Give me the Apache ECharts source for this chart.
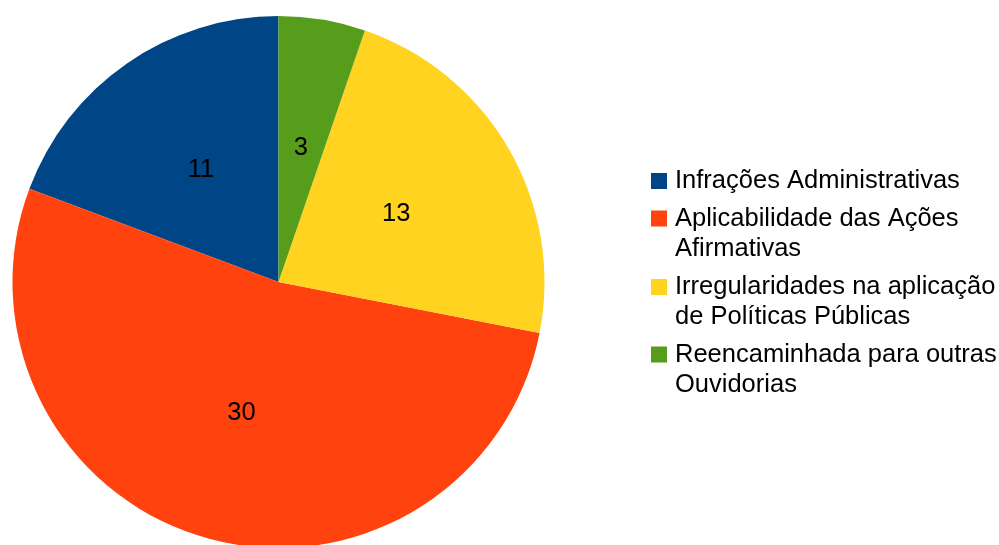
<!DOCTYPE html>
<html>
<head>
<meta charset="utf-8">
<script src="https://cdn.jsdelivr.net/npm/echarts@6/dist/echarts.min.js"></script>
<style>
  html, body { margin: 0; padding: 0; background: #ffffff; }
  #chart { width: 999px; height: 545px; }
</style>
</head>
<body>
<div id="chart"></div>
<script>
// Categories and counts, in drawing order (counter-clockwise from 12 o'clock)
const categories = [
  'Infrações Administrativas',
  'Aplicabilidade das Ações Afirmativas',
  'Irregularidades na aplicação de Políticas Públicas',
  'Reencaminhada para outras Ouvidorias'
];
const counts = [11, 30, 13, 3];
const colors = ['#004586', '#ff420e', '#ffd320', '#579d1c'];
// Wrapped legend text for each category
const legendLines = [
  ['Infrações Administrativas'],
  ['Aplicabilidade das Ações', 'Afirmativas'],
  ['Irregularidades na aplicação', 'de Políticas Públicas'],
  ['Reencaminhada para outras', 'Ouvidorias']
];

const FONT = 'Liberation Sans';
const FONT_SIZE = 25.5;
const LINE_H = 30;
const legendIconTops = [173, 210.5, 279, 346.5];

const chart = echarts.init(document.getElementById('chart'), null, { renderer: 'canvas' });

// One legend block per category. The legend centres its text on the swatch,
// so wrapped entries get a blank leading line to keep line one beside the swatch.
const legends = categories.map((name, i) => {
  const lines = legendLines[i];
  const shown = lines.length > 1 ? [''].concat(lines) : lines;
  return {
    orient: 'vertical',
    left: 651,
    top: legendIconTops[i] + 8 - (shown.length * LINE_H) / 2,
    padding: 0,
    itemWidth: 16,
    itemHeight: 16,
    icon: 'rect',
    selectedMode: false,
    data: [name],
    formatter: () => shown.map(s => s ? '{t|' + s + '}' : '{t| }').join('\n'),
    textStyle: {
      fontFamily: FONT,
      fontSize: FONT_SIZE,
      color: '#000000',
      lineHeight: LINE_H,
      rich: {
        t: {
          fontFamily: FONT,
          fontSize: FONT_SIZE,
          color: '#000000',
          lineHeight: LINE_H,
          padding: [0, 0, 0, 3]
        }
      }
    }
  };
});

chart.setOption({
  animation: false,
  color: colors,
  legend: legends,
  series: [{
    type: 'pie',
    center: [278.5, 282],
    radius: 266,
    startAngle: 90,
    clockwise: false,
    avoidLabelOverlap: false,
    itemStyle: { borderWidth: 0 },
    label: {
      show: true,
      position: 'inside',
      formatter: '{c}',
      fontFamily: FONT,
      fontSize: FONT_SIZE,
      color: '#000000'
    },
    labelLine: { show: false },
    emphasis: { disabled: true },
    data: categories.map((name, i) => ({ name: name, value: counts[i] }))
  }]
});
</script>
</body>
</html>
